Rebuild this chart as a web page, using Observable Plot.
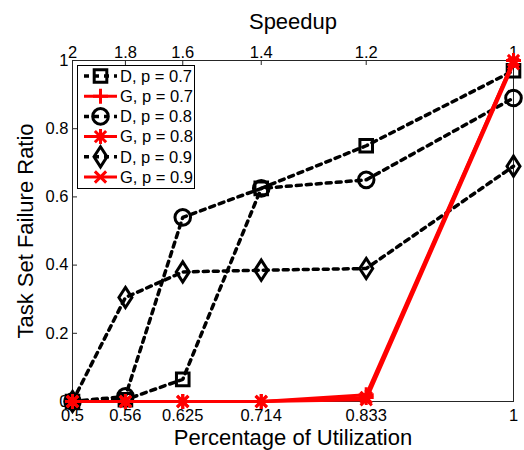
<!DOCTYPE html>
<html>
<head>
<meta charset="utf-8">
<script src="https://cdn.jsdelivr.net/npm/d3@7"></script>
<script src="https://cdn.jsdelivr.net/npm/@observablehq/plot@0.6"></script>
<style>
  body { margin: 0; background: #fff; }
  #chart { position: relative; width: 524px; height: 450px; font-family: "Liberation Sans", Arial, sans-serif; }
  #legend { position: absolute; left: 77px; top: 65px; }
</style>
</head>
<body>
<div id="chart"></div>
<script>
// Utilization levels (bottom axis) and the matching speedup labels (top axis)
const utilization = [0.5, 0.56, 0.625, 0.714, 0.833, 1];
const utilizationLabels = ["0.5", "0.56", "0.625", "0.714", "0.833", "1"];
const speedupLabels = ["2", "1.8", "1.6", "1.4", "1.2", "1"];
const ratioTicks = [0, 0.2, 0.4, 0.6, 0.8, 1];

// Task set failure ratio per series
const seriesNames = ["D, p = 0.7", "G, p = 0.7", "D, p = 0.8", "G, p = 0.8", "D, p = 0.9", "G, p = 0.9"];
const dP07 = [0, 0.005, 0.065, 0.625, 0.75, 0.97];
const gP07 = [0, 0, 0, 0, 0.02, 1];
const dP08 = [0, 0.015, 0.54, 0.625, 0.65, 0.89];
const gP08 = [0, 0, 0, 0, 0.012, 1];
const dP09 = [0, 0.305, 0.38, 0.385, 0.39, 0.69];
const gP09 = [0, 0, 0, 0, 0.005, 0.99];

// Marker shapes (size is the area Plot passes in; radius recovered from it)
const rad = (size) => Math.sqrt(size / Math.PI);
const squareSym = { draw(c, size) { const r = rad(size); c.moveTo(-r, -r); c.lineTo(r, -r); c.lineTo(r, r); c.lineTo(-r, r); c.closePath(); } };
const circleSym = { draw(c, size) { const r = rad(size); c.moveTo(r, 0); c.arc(0, 0, r, 0, 2 * Math.PI); } };
const diamondSym = { draw(c, size) { const r = rad(size); const h = r * 1.55; c.moveTo(0, -h); c.lineTo(r, 0); c.lineTo(0, h); c.lineTo(-r, 0); c.closePath(); } };
const plusSym = { draw(c, size) { const r = rad(size); c.moveTo(-r, 0); c.lineTo(r, 0); c.moveTo(0, -r); c.lineTo(0, r); } };
const timesSym = { draw(c, size) { const r = rad(size) * 0.75; c.moveTo(-r, -r); c.lineTo(r, r); c.moveTo(-r, r); c.lineTo(r, -r); } };
const starSym = { draw(c, size) { plusSym.draw(c, size); timesSym.draw(c, size); } };

const series = [
  { name: seriesNames[0], values: dP07, dashed: true,  color: "#000", symbol: squareSym,  r: 6.3 },
  { name: seriesNames[2], values: dP08, dashed: true,  color: "#000", symbol: circleSym,  r: 7.8 },
  { name: seriesNames[4], values: dP09, dashed: true,  color: "#000", symbol: diamondSym, r: 6.5 },
  { name: seriesNames[1], values: gP07, dashed: false, color: "#ff0000", symbol: plusSym,  r: 7.5 },
  { name: seriesNames[3], values: gP08, dashed: false, color: "#ff0000", symbol: starSym,  r: 7.5 },
  { name: seriesNames[5], values: gP09, dashed: false, color: "#ff0000", symbol: timesSym, r: 7.5 }
];

const rows = (s) => utilization.map((u, i) => ({ u, v: s.values[i] }));
const dash = "5,5";

const seriesMarks = series.flatMap((s) => [
  Plot.line(rows(s), {
    x: "u", y: "v", stroke: s.color, strokeWidth: s.dashed ? 3.5 : 3,
    strokeDasharray: s.dashed ? dash : null, strokeLinejoin: "miter"
  }),
  Plot.dot(rows(s), {
    x: "u", y: "v", r: s.r, symbol: s.symbol, fill: "none",
    stroke: s.color, strokeWidth: 3
  })
]);

const tickFont = 16.5;
const titleFont = 22;

const chart = Plot.plot({
  width: 524,
  height: 450,
  marginLeft: 72,
  marginRight: 11,
  marginTop: 60,
  marginBottom: 49,
  style: { fontFamily: "'Liberation Sans', Arial, sans-serif", background: "#fff", color: "#000" },
  x: { domain: [0.5, 1] },
  y: { domain: [0, 1] },
  marks: [
    // inward tick marks on the framed sides
    Plot.tickX(utilization, { x: (d) => d, insetTop: 336, stroke: "#262626" }),
    Plot.tickX(utilization, { x: (d) => d, insetBottom: 336, stroke: "#262626" }),
    Plot.tickY(ratioTicks, { y: (d) => d, insetRight: 436, stroke: "#262626" }),
    Plot.frame({ stroke: "#262626", strokeWidth: 1 }),
    // tick labels
    Plot.axisX(utilization, { anchor: "bottom", tickSize: 0, tickPadding: 8, fontSize: tickFont,
      tickFormat: (d) => utilizationLabels[utilization.indexOf(d)], label: null }),
    Plot.axisX(utilization, { anchor: "top", tickSize: 0, tickPadding: 3, fontSize: tickFont,
      tickFormat: (d) => speedupLabels[utilization.indexOf(d)], label: null }),
    Plot.axisY(ratioTicks, { anchor: "left", tickSize: 0, tickPadding: 4, fontSize: tickFont,
      tickFormat: (d) => String(d), label: null }),
    // axis titles
    Plot.axisX([], { anchor: "bottom", label: "Percentage of Utilization", labelAnchor: "center",
      labelOffset: 43, labelArrow: false, fontSize: titleFont }),
    Plot.axisX([], { anchor: "top", label: "Speedup", labelAnchor: "center",
      labelOffset: 47, labelArrow: false, fontSize: titleFont }),
    Plot.axisY([], { anchor: "left", label: "Task Set Failure Ratio", labelAnchor: "center",
      labelOffset: 55, labelArrow: false, fontSize: titleFont }),
    ...seriesMarks
  ]
});

const host = document.getElementById("chart");
host.appendChild(chart);

// Legend box in plotting order
const legendOrder = [series[0], series[3], series[1], series[4], series[2], series[5]];
const lw = 118, lh = 124, rowH = 20.2, row0 = 11;
const legend = d3.create("svg")
  .attr("id", "legend")
  .attr("width", lw)
  .attr("height", lh)
  .style("font-family", "'Liberation Sans', Arial, sans-serif");
legend.append("rect")
  .attr("x", 0.5).attr("y", 0.5).attr("width", lw - 1).attr("height", lh - 1)
  .attr("fill", "#fff").attr("stroke", "#000");
legendOrder.forEach((s, i) => {
  const y = row0 + i * rowH;
  const g = legend.append("g").attr("transform", `translate(0,${y})`);
  g.append("line")
    .attr("x1", 7).attr("x2", 40).attr("y1", 0).attr("y2", 0)
    .attr("stroke", s.color).attr("stroke-width", s.dashed ? 3.5 : 3)
    .attr("stroke-dasharray", s.dashed ? dash : null);
  const p = d3.path();
  s.symbol.draw(p, s.r * s.r * Math.PI);
  g.append("path")
    .attr("d", p.toString())
    .attr("transform", "translate(23.5,0)")
    .attr("fill", "none").attr("stroke", s.color).attr("stroke-width", 3);
  g.append("text")
    .attr("x", 43).attr("y", 0).attr("dy", "0.35em")
    .attr("font-size", 16.5).attr("fill", "#000")
    .text(s.name);
});
host.appendChild(legend.node());
</script>
</body>
</html>
